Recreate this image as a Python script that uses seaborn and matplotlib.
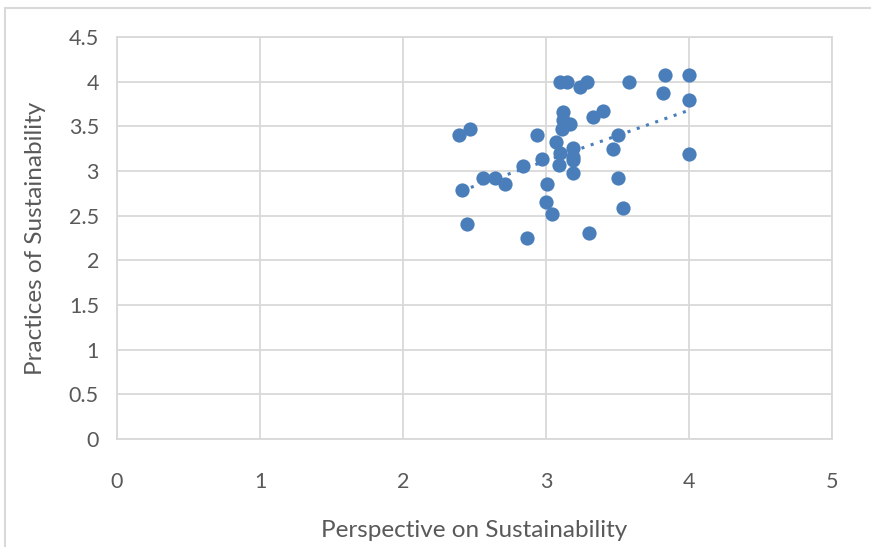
import numpy as np
import pandas as pd
import matplotlib
matplotlib.use("Agg")
import matplotlib.pyplot as plt
from matplotlib.patches import Rectangle
import seaborn as sns

# values
perspective = [2.39, 2.47, 2.41, 2.45, 2.56, 2.64, 2.71, 2.84, 2.94, 2.97,
               2.87, 3.01, 3.00, 3.04, 3.07, 3.12, 3.12, 3.11, 3.17, 3.10,
               3.15, 3.24, 3.29, 3.33, 3.40, 3.58, 3.83, 4.00, 3.82, 4.00,
               4.00, 3.50, 3.47, 3.50, 3.54, 3.30, 3.19, 3.19, 3.19, 3.09,
               3.19, 3.10]
practices = [3.40, 3.47, 2.79, 2.41, 2.92, 2.92, 2.85, 3.06, 3.40, 3.13,
             2.25, 2.85, 2.65, 2.52, 3.33, 3.66, 3.57, 3.47, 3.53, 4.00,
             4.00, 3.94, 4.00, 3.60, 3.67, 4.00, 4.08, 4.08, 3.87, 3.80,
             3.19, 3.40, 3.25, 2.92, 2.59, 2.31, 3.26, 3.16, 3.12, 3.07,
             2.98, 3.20]
# linear trendline as shown in the reference (end points)
trend_x = [2.41, 4.00]
trend_y = [2.78, 3.68]
x_ticks = [0, 1, 2, 3, 4, 5]
y_ticks = [0, 0.5, 1, 1.5, 2, 2.5, 3, 3.5, 4, 4.5]

df = pd.DataFrame({"Perspective on Sustainability": perspective,
                   "Practices of Sustainability": practices})

sns.set_style("white")
plt.rcParams["font.family"] = ["Lato", "DejaVu Sans"]

blue = "#4A7EBB"
grid = "#D9D9D9"
text = "#595959"

fig = plt.figure(figsize=(8.71, 5.47), dpi=100)
ax = fig.add_axes([117 / 871, 1 - 439 / 547, (832 - 117) / 871, (439 - 37) / 547])

sns.scatterplot(data=df, x="Perspective on Sustainability", y="Practices of Sustainability",
                ax=ax, s=105, color=blue, linewidth=0, zorder=3)
sns.lineplot(x=trend_x, y=trend_y, ax=ax, color=blue,
             linestyle=(0, (1, 2.2)), linewidth=2.2, zorder=4)

ax.set_xlim(0, 5)
ax.set_ylim(0, 4.5)
ax.set_xticks(x_ticks)
ax.set_yticks(y_ticks)
ax.set_xticklabels([str(t) for t in x_ticks])
ax.set_yticklabels([f"{t:g}" for t in y_ticks])
ax.grid(True, color=grid, linewidth=1.3, zorder=0)
ax.set_axisbelow(True)
for s in ax.spines.values():
    s.set_color(grid)
    s.set_linewidth(1.3)
ax.tick_params(axis="both", length=0, labelsize=15.5, labelcolor=text)
ax.tick_params(axis="x", pad=24)
ax.tick_params(axis="y", pad=13)
ax.set_xlabel("Perspective on Sustainability", fontsize=17.5, color=text, labelpad=20)
ax.set_ylabel("Practices of Sustainability", fontsize=17.5, color=text, labelpad=16)

# outer chart border, partly cropped as in the reference
fig.add_artist(Rectangle((5 / 871, -0.1), 1.2, 0.1 + 1 - 8 / 547,
                         transform=fig.transFigure, fill=False,
                         edgecolor=grid, linewidth=1.5, clip_on=False))

fig.savefig("out.png", dpi=100, facecolor="white")
